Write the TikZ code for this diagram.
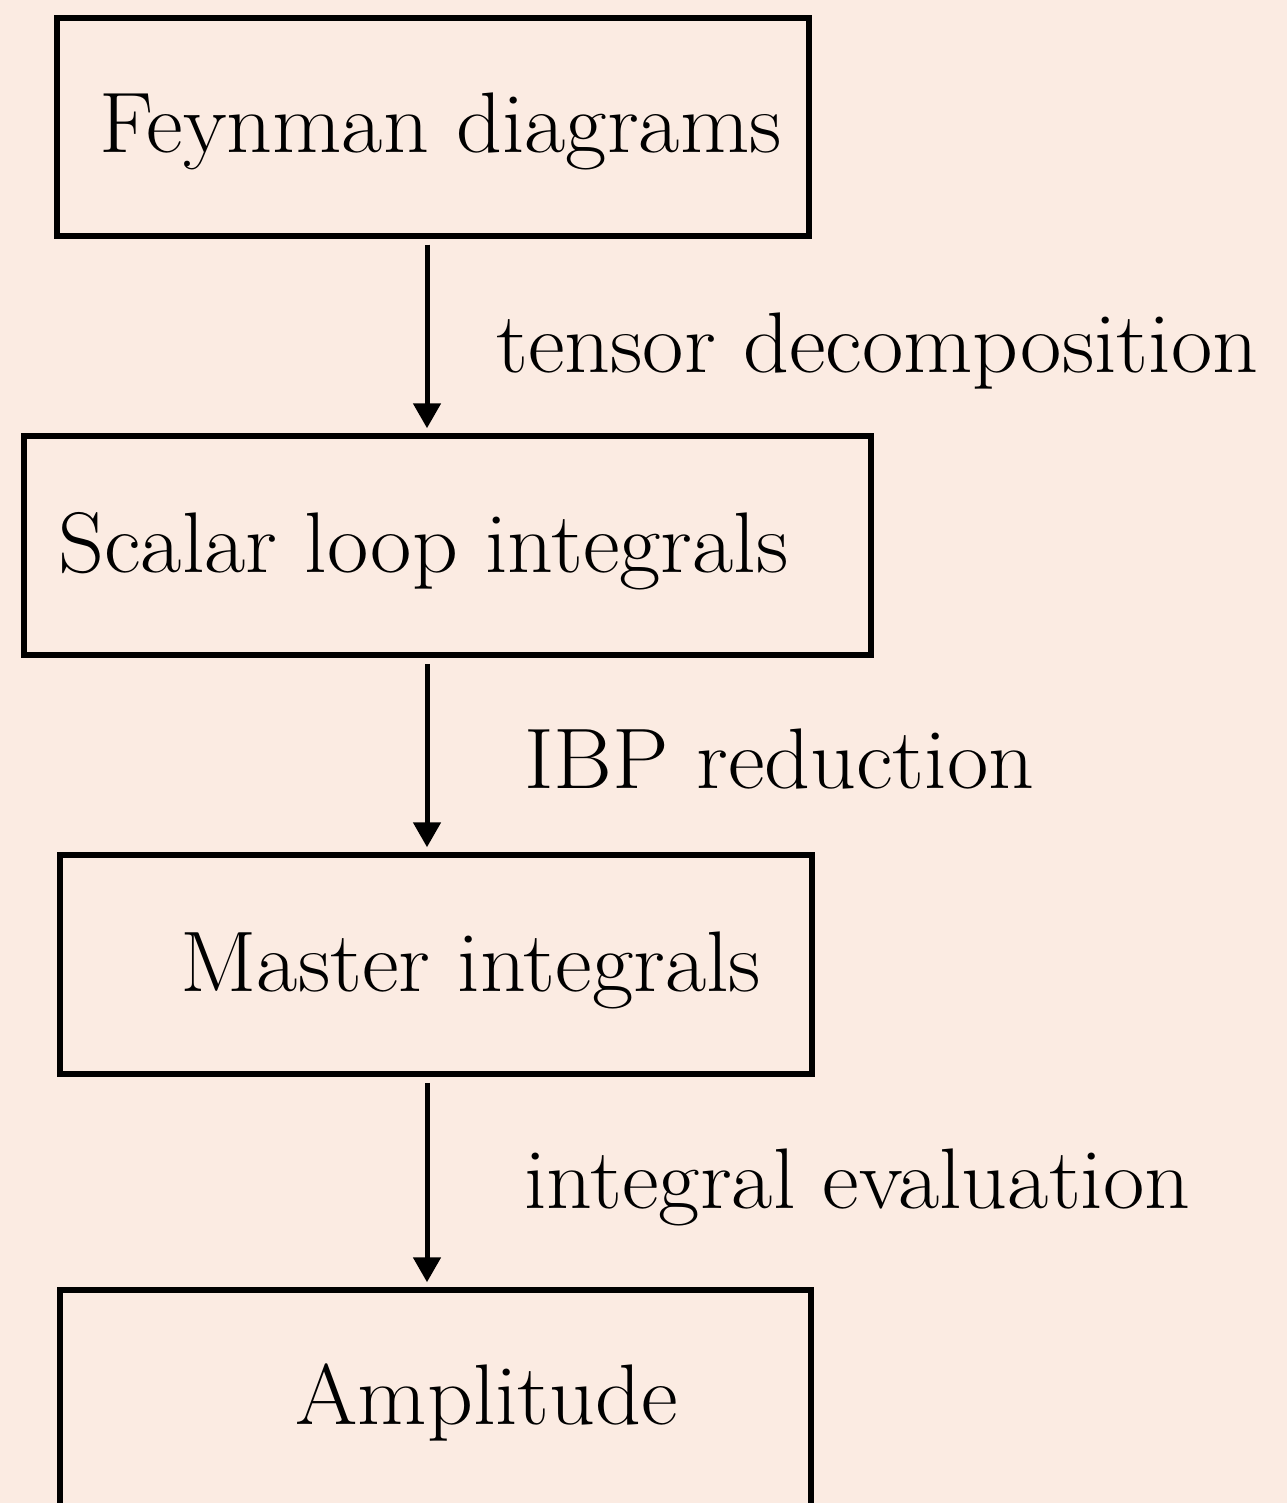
\documentclass[tikz,border=0pt]{standalone}
\usetikzlibrary{arrows.meta}
\definecolor{paper}{RGB}{251,235,226}
\tikzset{
  stage/.style={draw=black, line width=2.75pt, inner sep=0pt},
  caption/.style={inner sep=0pt, anchor=base west, xscale=1.045, transform shape,
                  font=\fontsize{43}{52}\selectfont},
  flow/.style={line width=2.5pt, -{Triangle[length=12.5pt,width=13.5pt]},
               shorten <=3pt, shorten >=2.5pt},
}
\begin{document}
\begin{tikzpicture}[x=0.5pt, y=-0.5pt]
  \clip (0,0) rectangle (1287,1503);
  \fill[paper] (0,0) rectangle (1287,1503);

  % stage boxes
  \node[stage, minimum width=376pt, minimum height=109pt] (b1) at (433,127) {};
  \node[stage, minimum width=423.5pt, minimum height=109.5pt] (b2) at (447.5,545.5) {};
  \node[stage, minimum width=376pt, minimum height=109.5pt] (b3) at (436,964.5) {};
  \node[stage, minimum width=375.5pt, minimum height=109.5pt] (b4) at (435.5,1399.5) {};

  % box texts
  \node[caption] (t1) at (99,153) {Feynman diagrams};
  \node[caption] (t2) at (58,572) {Scalar loop integrals};
  \node[caption] (t3) at (180,991) {Master integrals};
  \node[caption] (t4) at (295,1424) {Amplitude};

  % step labels
  \node[caption] (l1) at (496,372) {tensor decomposition};
  \node[caption] (l2) at (524,788) {IBP reduction};
  \node[caption] (l3) at (524,1208) {integral evaluation};

  % connectors
  \coordinate (ax) at (427,0);
  \draw[flow] (b1.south -| ax) -- (b2.north -| ax);
  \draw[flow] (b2.south -| ax) -- (b3.north -| ax);
  \draw[flow] (b3.south -| ax) -- (b4.north -| ax);
\end{tikzpicture}
\end{document}
